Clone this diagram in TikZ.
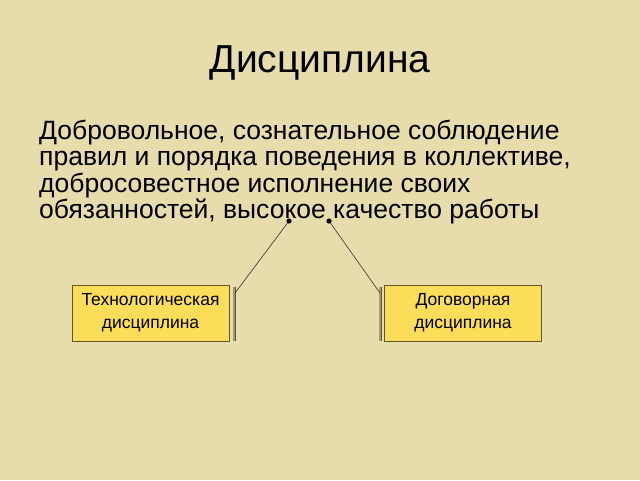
\documentclass[tikz,border=0pt]{standalone}
\usepackage{fontspec}
\setmainfont{Liberation Sans}
\usetikzlibrary{positioning}
\definecolor{slidebg}{RGB}{230,220,172}
\definecolor{boxfill}{RGB}{250,222,90}
\definecolor{boxline}{RGB}{100,85,40}
\definecolor{barline}{RGB}{95,85,55}

\begin{document}
\begin{tikzpicture}[x=1pt,y=1pt,
            kind/.style={draw=boxline,fill=boxfill,line width=0.8pt,
              minimum width=157pt,minimum height=56pt,align=center,
              font=\fontsize{17.5}{23}\selectfont},
            bar/.style={draw=barline,line width=0.9pt,double=black!30!slidebg,
              double distance=1.2pt},
            link/.style={draw=black!80,line width=0.6pt}]

      \fill[slidebg] (0,0) rectangle (640,480);
      \useasboundingbox (0,0) rectangle (640,480);

      \node (title) at (320,417) [font=\fontsize{39}{43}\selectfont] {Дисциплина};
      \node (text) at (39,360) [anchor=north west,align=left,inner sep=0pt,
            font=\fontsize{26.5}{26.3}\selectfont]
            {Добровольное, сознательное соблюдение\\
             правил и порядка поведения в коллективе,\\
             добросовестное исполнение своих\\
             обязанностей, высокое качество работы};

      \node[kind] (tech) at (150.5,167) {Технологическая\\дисциплина};
      \node[kind] (dogov) at (463,167) {Договорная\\дисциплина};

      % brackets beside the boxes
      \coordinate (lb top) at (234,193);
      \coordinate (lb bot) at (234,139);
      \coordinate (rb top) at (380,193);
      \coordinate (rb bot) at (380,139);
      \draw[bar] (lb top) -- (lb bot);
      \draw[bar] (rb top) -- (rb bot);

      \coordinate (ldot) at (289,259);
      \coordinate (rdot) at (329,259);
      \coordinate (lend) at (235,187);
      \coordinate (rend) at (380,187);

      \draw[link] (ldot) -- (lend);
      \draw[link] (rdot) -- (rend);
      \fill (ldot) circle (2.6pt);
      \fill (rdot) circle (2.6pt);

\end{tikzpicture}
\end{document}
